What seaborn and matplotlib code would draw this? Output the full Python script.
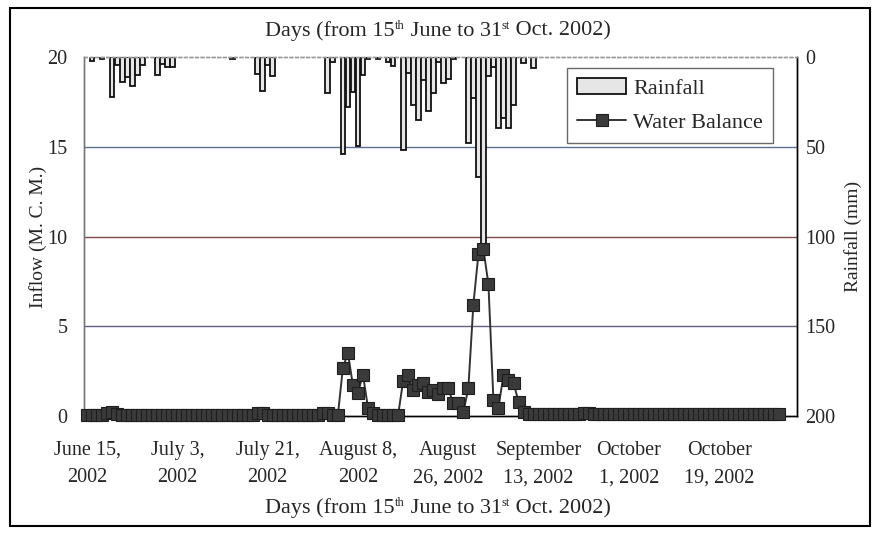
import numpy as np
import pandas as pd
import matplotlib
matplotlib.use("Agg")
import matplotlib.pyplot as plt
from matplotlib.patches import Rectangle
import seaborn as sns

# ------------------------------------------------------------------
# DATA  (day 0 = 15 June 2002, day 138 = 31 Oct 2002)
# ------------------------------------------------------------------

# rainfall (mm), one value per day
rainfall = [
    0, 2, 0, 1, 0, 22, 4.5, 14, 11, 16,          # 0-9
    10, 4.5, 0, 0, 10, 4, 5.5, 5.5, 0, 0,        # 10-19
    0, 0, 0, 0, 0, 0, 0, 0, 0, 1,                # 20-29
    0, 0, 0, 0, 9.5, 19, 4.5, 10.5, 0, 0,        # 30-39
    0, 0, 0, 0, 0, 0, 0, 0, 20, 3,               # 40-49
    0, 54, 28, 19.5, 49.5, 10, 1, 0, 1, 0,       # 50-59
    3, 5, 0, 52, 9, 27, 35, 13, 30, 20,          # 60-69
    3, 14.7, 12, 1, 0, 0, 48, 23, 67, 105,       # 70-79
    10.6, 5.5, 39.5, 34, 39.5, 27, 0, 3.5, 0, 6, # 80-89
] + [0] * 49                                      # 90-138

# water balance inflow (M.C.M.), one value per day
water_balance = [
    0.05, 0.05, 0.05, 0.05, 0.15, 0.2, 0.1, 0.05, 0.05, 0.05,       # 0-9
    0.05, 0.05, 0.05, 0.05, 0.05, 0.05, 0.05, 0.05, 0.05, 0.05,     # 10-19
    0.05, 0.05, 0.05, 0.05, 0.05, 0.05, 0.05, 0.05, 0.05, 0.05,     # 20-29
    0.05, 0.05, 0.05, 0.05, 0.15, 0.15, 0.05, 0.05, 0.05, 0.05,     # 30-39
    0.05, 0.05, 0.05, 0.05, 0.05, 0.05, 0.05, 0.15, 0.15, 0.05,     # 40-49
    0.05, 2.7, 3.5, 1.7, 1.3, 2.3, 0.45, 0.15, 0.05, 0.05,          # 50-59
    0.05, 0.05, 0.05, 1.95, 2.3, 1.45, 1.7, 1.85, 1.35, 1.45,       # 60-69
    1.2, 1.55, 1.55, 0.7, 0.7, 0.2, 1.55, 6.2, 9.0, 9.3,            # 70-79
    7.35, 0.9, 0.45, 2.3, 2.0, 1.85, 0.8, 0.25, 0.1, 0.1,           # 80-89
    0.1, 0.1, 0.1, 0.1, 0.1, 0.1, 0.1, 0.1, 0.1, 0.15,              # 90-99
    0.15, 0.1, 0.1, 0.1, 0.1, 0.1, 0.1, 0.1, 0.1, 0.1,              # 100-109
    0.1, 0.1, 0.1, 0.1, 0.1, 0.1, 0.1, 0.1, 0.1, 0.1,               # 110-119
    0.1, 0.1, 0.1, 0.1, 0.1, 0.1, 0.1, 0.1, 0.1, 0.1,               # 120-129
    0.1, 0.1, 0.1, 0.1, 0.1, 0.1, 0.1, 0.1, 0.1,                    # 130-138
]

tick_days = [0, 18, 36, 54, 72, 90, 108, 126]
tick_labels = ["June 15,\n2002", "July 3,\n2002", "July 21,\n2002",
               "August 8,\n2002", "August\n26, 2002", "September\n13, 2002",
               "October\n1, 2002", "October\n19, 2002"]

inflow_ticks = [0, 5, 10, 15, 20]
rain_ticks = [0, 50, 100, 150, 200]
grid_levels = [15, 10, 5]
grid_colors = ["#5b6e95", "#7d4b4b", "#66607e"]

# title pieces: (text, is_superscript)
title_parts = [("Days (from 15", False), ("th", True), (" June to 31", False),
               ("st", True), (" Oct. 2002)", False)]

# ------------------------------------------------------------------
# STYLE
# ------------------------------------------------------------------

sns.set_theme(style="white")
plt.rcParams["font.family"] = ["Liberation Serif", "DejaVu Serif"]

FS_TITLE = 16
FS_SUP = 9
FS_TICK = 14.5
FS_LABEL = 14
FS_LEG = 16


def sup_title(fig, y, parts):
    """Write a line of text centred at fig-y, with small raised pieces."""
    fig.canvas.draw()
    r = fig.canvas.get_renderer()
    texts = []
    for txt, sup in parts:
        t = fig.text(0, y + (0.013 if sup else 0), txt, ha="left",
                     va="baseline", fontsize=FS_SUP if sup else FS_TITLE)
        texts.append(t)
    widths = [t.get_window_extent(r).width / fig.bbox.width for t in texts]
    x = 0.5 - sum(widths) / 2
    for t, w in zip(texts, widths):
        t.set_x(x)
        x += w


df_wb = pd.DataFrame({"day": np.arange(len(water_balance)),
                      "inflow": water_balance})
df_rain = pd.DataFrame({"day": np.arange(len(rainfall)), "rain": rainfall})
df_rain = df_rain[df_rain["rain"] > 0]

fig = plt.figure(figsize=(8.76, 5.33), dpi=100)
ax = fig.add_axes([0.0959, 0.2195, 0.8139, 0.6735])
ax2 = ax.twinx()

# rainfall bars hanging from the top (inverted right axis)
for lvl, col in zip(grid_levels, grid_colors):
    ax2.axhline((20 - lvl) * 10, color=col, lw=1.0, zorder=0)
sns.barplot(data=df_rain, x="day", y="rain", native_scale=True, width=0.95,
            color="#e6e6e6", edgecolor="#111111", linewidth=1.3,
            saturation=1, ax=ax2, label="Rainfall", zorder=2)
ax2.set_ylim(200, 0)

# water balance line in front
ax.set_zorder(ax2.get_zorder() + 1)
ax.patch.set_visible(False)
sns.lineplot(data=df_wb, x="day", y="inflow", ax=ax, color="#333333",
             lw=1.4, marker="s", markersize=8, markerfacecolor="#3a3a3a",
             markeredgecolor="#1e1e1e", markeredgewidth=0.8,
             label="Water Balance", clip_on=False, zorder=5)

ax.set_xlim(-0.6, 141.5)
ax2.set_xlim(-0.6, 141.5)
ax.set_ylim(0, 20)

ax.set_xticks(tick_days)
ax.set_xticklabels(tick_labels, fontsize=FS_TICK, linespacing=1.6)
ax.set_yticks(inflow_ticks)
ax.set_yticklabels([str(v) for v in inflow_ticks], fontsize=FS_TICK)
ax2.set_yticks(rain_ticks)
ax2.set_yticklabels([str(v) for v in rain_ticks], fontsize=FS_TICK)
ax.tick_params(axis="x", length=0, pad=18)
ax.tick_params(axis="y", length=0, pad=12)
ax2.tick_params(axis="y", length=0, pad=6)
ax2.tick_params(axis="x", bottom=False, labelbottom=False)

ax.set_xlabel("")
ax.set_ylabel("Inflow (M. C. M.)", fontsize=FS_LABEL, labelpad=0)
ax2.set_xlabel("")
ax2.set_ylabel("Rainfall (mm)", fontsize=FS_LABEL, labelpad=6)

for a in (ax, ax2):
    a.spines["left"].set_color("#777777")
    a.spines["top"].set_color("#999999")
    a.spines["top"].set_linestyle((0, (2, 2)))
    a.spines["right"].set_color("black")
    a.spines["bottom"].set_color("black")
    for s in a.spines.values():
        s.set_linewidth(1.0)

# combined legend
h1, l1 = ax2.get_legend_handles_labels()
h2, l2 = ax.get_legend_handles_labels()
ax2.legend_ = None
leg = ax.legend(h1 + h2, l1 + l2, loc="upper right",
                bbox_to_anchor=(0.966, 0.969), borderaxespad=0,
                fontsize=FS_LEG, frameon=True, fancybox=False,
                edgecolor="#444444", borderpad=0.45, handlelength=2.2,
                handletextpad=0.3, labelspacing=0.6)
leg.get_frame().set_linewidth(1.0)

sup_title(fig, 0.933, title_parts)
sup_title(fig, 0.037, title_parts)

fig.patches.append(Rectangle((0.011, 0.013), 0.982, 0.972,
                             transform=fig.transFigure, fill=False,
                             lw=1.5, ec="black"))

fig.savefig("out.png", dpi=100)
